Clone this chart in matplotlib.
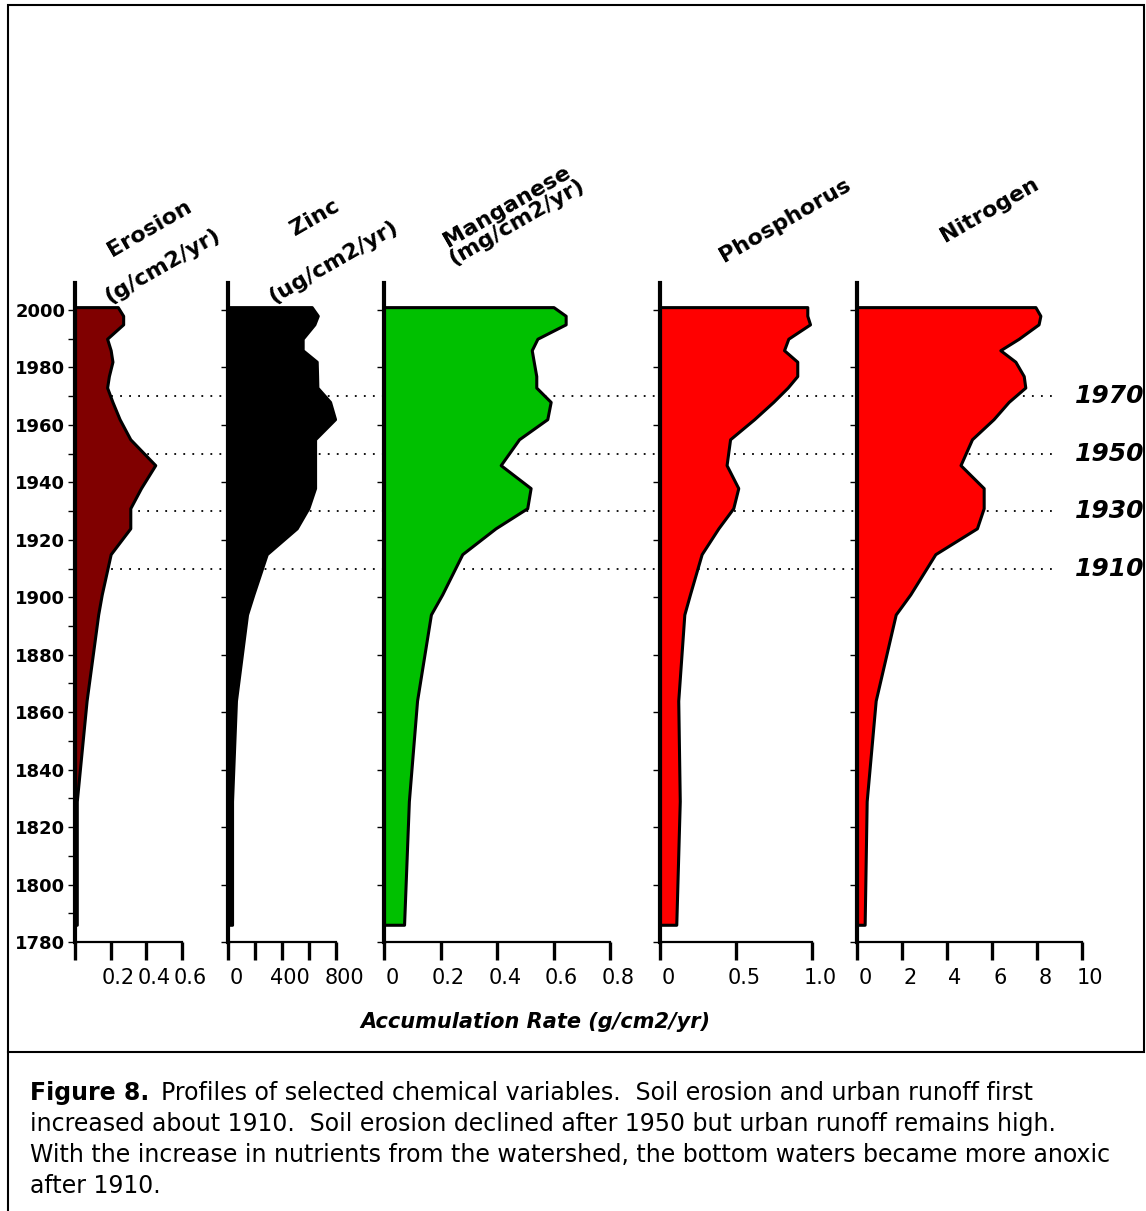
import matplotlib.pyplot as plt
import matplotlib.transforms as mtransforms
from matplotlib.lines import Line2D
from matplotlib.patches import Rectangle

# sample years (core depth converted to date) and accumulation rates per profile
years = [2001, 1998, 1995, 1990, 1986, 1982, 1977, 1973, 1968, 1962, 1955,
         1946, 1938, 1931, 1924, 1915, 1901, 1894, 1864, 1829, 1786]
erosion = [0.24, 0.27, 0.27, 0.18, 0.20, 0.21, 0.19, 0.18, 0.21, 0.25, 0.31,
           0.45, 0.37, 0.31, 0.31, 0.20, 0.15, 0.13, 0.065, 0.01, 0.01]
zinc = [620, 665, 640, 553, 553, 657, 660, 662, 756, 793, 645,
        645, 645, 595, 509, 287, 188, 141, 59, 30, 30]
manganese = [0.60, 0.643, 0.643, 0.543, 0.523, 0.53, 0.539, 0.539, 0.59, 0.578, 0.478,
             0.413, 0.519, 0.507, 0.395, 0.277, 0.206, 0.166, 0.117, 0.088, 0.071]
phosphorus = [0.969, 0.969, 0.987, 0.844, 0.816, 0.903, 0.903, 0.84, 0.745, 0.62, 0.461,
              0.438, 0.515, 0.482, 0.384, 0.274, 0.197, 0.16, 0.12, 0.13, 0.107]
nitrogen = [7.93, 8.15, 8.07, 7.19, 6.37, 7.04, 7.41, 7.48, 6.74, 6.07, 5.11,
            4.60, 5.63, 5.63, 5.33, 3.48, 2.37, 1.72, 0.83, 0.43, 0.34]

year_ticks = list(range(1780, 2001, 20))
minor_years = list(range(1790, 2000, 20))
marker_years = [1970, 1950, 1930, 1910]

W, H = 1146, 1211
fig = plt.figure(figsize=(W / 100, H / 100), dpi=100)


def px_rect(x0, x1, ytop, ybot):
    return [x0 / W, 1 - ybot / H, (x1 - x0) / W, (ybot - ytop) / H]


ylim = (1780, 2009.4)

# background axes for the dotted date lines that run across all panels
bg = fig.add_axes(px_rect(0, W, 283, 942), zorder=0)
bg.set_xlim(0, W)
bg.set_ylim(ylim)
bg.axis('off')
bg.hlines(marker_years, 75, 1055, colors='black', linestyles=(0, (1, 4)), lw=1.3)
for y in marker_years:
    bg.text(1075, y, str(y), ha='left', va='center', fontsize=18,
            fontweight='bold', style='italic')

panels = [
    (erosion, '#800000', 75, 182, 0.6, [0, 0.2, 0.4, 0.6], ['', '0.2', '0.4', '0.6']),
    (zinc, 'black', 228, 336, 800, [0, 200, 400, 600, 800], ['0', '', '400', '', '800']),
    (manganese, '#00C000', 384, 610, 0.8, [0, 0.2, 0.4, 0.6, 0.8], ['0', '0.2', '0.4', '0.6', '0.8']),
    (phosphorus, '#FF0000', 660, 812, 1.0, [0, 0.5, 1.0], ['0', '0.5', '1.0']),
    (nitrogen, '#FF0000', 857, 1082, 10, [0, 2, 4, 6, 8, 10], ['0', '2', '4', '6', '8', '10']),
]

shift = mtransforms.ScaledTranslation(8 / 100, 0, fig.dpi_scale_trans)

for i, (vals, color, x0, x1, xmax, xt, xtl) in enumerate(panels):
    ax = fig.add_axes(px_rect(x0, x1, 283, 942), zorder=1)
    ax.patch.set_visible(False)
    ax.fill_betweenx(years, 0, vals, facecolor=color, edgecolor='black', lw=2.2)
    ax.set_xlim(0, xmax)
    ax.set_ylim(ylim)
    for s in ['top', 'right']:
        ax.spines[s].set_visible(False)
    ax.spines['left'].set_linewidth(3)
    ax.spines['bottom'].set_linewidth(1.6)
    ax.set_xticks(xt)
    ax.set_xticklabels(xtl, fontsize=15)
    ax.tick_params(axis='x', direction='out', length=13, width=2.4, pad=6)
    for lab in ax.get_xticklabels():
        lab.set_transform(lab.get_transform() + shift)
    ax.set_yticks(year_ticks)
    if i == 0:
        ax.set_yticks(minor_years, minor=True)
        ax.set_yticklabels([str(y) for y in year_ticks], fontsize=13, fontweight='bold')
        ax.tick_params(axis='y', which='major', length=5, width=1, pad=2)
        ax.tick_params(axis='y', which='minor', length=5, width=1)
    else:
        ax.set_yticklabels([])
        ax.tick_params(axis='y', length=5, width=1)

# rotated panel titles
titles = [
    ('Erosion', 150, 228), ('(g/cm2/yr)', 162, 266),
    ('Zinc', 315, 218), ('(ug/cm2/yr)', 333, 262),
    ('Manganese\n(mg/cm2/yr)', 512, 214),
    ('Phosphorus', 785, 220),
    ('Nitrogen', 990, 210),
]
for txt, tx, ty in titles:
    fig.text(tx / W, 1 - ty / H, txt, rotation=30, ha='center', va='center',
             fontsize=16, fontweight='bold', linespacing=0.9)

fig.text(535 / W, 1 - 1022 / H, 'Accumulation Rate (g/cm2/yr)', ha='center', va='center',
         fontsize=15, fontweight='bold', style='italic')

# frame around chart and caption rule
fig.add_artist(Rectangle((8 / W, 1 - 1052 / H), (1144 - 8) / W, (1052 - 5) / H,
                         transform=fig.transFigure, fill=False, lw=1.5, ec='black'))
fig.add_artist(Line2D([8 / W, 8 / W], [0, 1 - 1052 / H], transform=fig.transFigure,
                      color='black', lw=1.5))

# caption
cap_fs = 17
cap_lines = [
    'Profiles of selected chemical variables.  Soil erosion and urban runoff first',
    'increased about 1910.  Soil erosion declined after 1950 but urban runoff remains high.',
    'With the increase in nutrients from the watershed, the bottom waters became more anoxic',
    'after 1910.',
]
head = fig.text(30 / W, 1 - 1093 / H, 'Figure 8.', fontsize=cap_fs, fontweight='bold',
                va='center', ha='left')
renderer = fig.canvas.get_renderer()
bb = head.get_window_extent(renderer)
fig.text(bb.x1 / W + 12 / W, 1 - 1093 / H, cap_lines[0], fontsize=cap_fs, va='center', ha='left')
for k, line in enumerate(cap_lines[1:]):
    fig.text(30 / W, 1 - (1124 + 31 * k) / H, line, fontsize=cap_fs, va='center', ha='left')

fig.savefig('out.png', dpi=100)
